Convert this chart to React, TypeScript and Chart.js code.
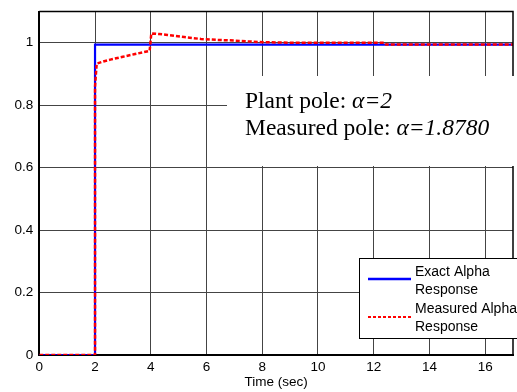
import React, { useEffect, useRef } from "react";
import { Chart, registerables } from "chart.js";

Chart.register(...registerables);

// ---- Data ----
const exactTime = [0, 2, 2, 17];
const exactAlpha = [0, 0, 0.994, 0.994];

const measuredTime = [0, 2, 2, 2.06, 2.3, 2.55, 3.0, 3.4, 3.96, 4.02, 4.3, 4.6, 5.2, 5.8, 6.4, 7.0, 7.9, 9, 12.4, 12.45, 17];
const measuredAlpha = [0, 0, 0.86, 0.933, 0.94, 0.946, 0.955, 0.963, 0.974, 1.03, 1.028, 1.025, 1.018, 1.012, 1.009, 1.007, 1.002, 1.0, 1.0, 0.994, 0.994];

const xTickValues = [0, 2, 4, 6, 8, 10, 12, 14, 16];
const yTickValues = [0, 0.2, 0.4, 0.6, 0.8, 1];

const seriesLabels = ["Exact Alpha", "Response", "Measured Alpha", "Response"];
const annotationLines = [
  ["Plant pole: ", "\u03B1=2"],
  ["Measured pole: ", "\u03B1=1.8780"],
];
const xTitle = "Time (sec)";

const SANS = "'Liberation Sans', Arial, sans-serif";
const SERIF = "'Liberation Serif', 'Times New Roman', serif";

const overlayPlugin = {
  id: "overlay",
  afterDraw(chart: any) {
    const ctx = chart.ctx;
    const { left, top, right, bottom } = chart.chartArea;
    ctx.save();
    // top & right frame
    ctx.strokeStyle = "#000";
    ctx.lineWidth = 1.5;
    ctx.beginPath();
    ctx.moveTo(left, top);
    ctx.lineTo(right, top);
    ctx.lineTo(right, bottom);
    ctx.stroke();

    // annotation box (white background)
    ctx.fillStyle = "#fff";
    ctx.fillRect(227, 76, 517 - 227, 166 - 76);
    ctx.fillStyle = "#000";
    ctx.textBaseline = "alphabetic";
    ctx.textAlign = "left";
    const baselines = [108, 135];
    annotationLines.forEach((parts, i) => {
      let x = 245;
      ctx.font = `23.5px ${SERIF}`;
      ctx.fillText(parts[0], x, baselines[i]);
      x += ctx.measureText(parts[0]).width;
      ctx.font = `italic 23.5px ${SERIF}`;
      ctx.fillText(parts[1], x, baselines[i]);
    });

    // legend
    ctx.fillStyle = "#fff";
    ctx.fillRect(359.5, 258.5, 170, 80);
    ctx.strokeStyle = "#000";
    ctx.lineWidth = 1;
    ctx.strokeRect(359.5, 258.5, 170, 80);

    ctx.lineWidth = 2.5;
    ctx.strokeStyle = "#0000ff";
    ctx.setLineDash([]);
    ctx.beginPath();
    ctx.moveTo(368, 279);
    ctx.lineTo(411, 279);
    ctx.stroke();

    ctx.strokeStyle = "#ff0000";
    ctx.lineWidth = 2;
    ctx.setLineDash([3, 2]);
    ctx.beginPath();
    ctx.moveTo(368, 317);
    ctx.lineTo(411, 317);
    ctx.stroke();
    ctx.setLineDash([]);

    ctx.fillStyle = "#000";
    ctx.font = `14px ${SANS}`;
    ctx.textBaseline = "middle";
    const ys = [272, 290, 309, 327];
    seriesLabels.forEach((t, i) => ctx.fillText(t, 415, ys[i]));
    ctx.restore();
  },
};

export default function App() {
  const ref = useRef<HTMLCanvasElement>(null);

  useEffect(() => {
    const canvas = ref.current;
    if (!canvas) return;
    const chart = new Chart(canvas, {
      type: "line",
      data: {
        datasets: [
          {
            label: "Exact Alpha Response",
            data: exactTime.map((t, i) => ({ x: t, y: exactAlpha[i] })),
            borderColor: "#0000ff",
            borderWidth: 2.2,
            pointRadius: 0,
            tension: 0,
            fill: false,
            order: 1,
          },
          {
            label: "Measured Alpha Response",
            data: measuredTime.map((t, i) => ({ x: t, y: measuredAlpha[i] })),
            borderColor: "#ff0000",
            borderWidth: 2.5,
            borderDash: [4, 2],
            pointRadius: 0,
            tension: 0,
            fill: false,
            order: 0,
          },
        ],
      },
      options: {
        responsive: false,
        animation: false,
        events: [],
        layout: { padding: { top: 11.5, left: 0, right: 4, bottom: 0 } },
        plugins: {
          legend: { display: false },
          tooltip: { enabled: false },
          title: { display: false },
        },
        scales: {
          x: {
            type: "linear",
            min: 0,
            max: 17,
            afterBuildTicks: (scale: any) => {
              scale.ticks = xTickValues.map((v) => ({ value: v }));
            },
            afterFit: (scale: any) => {
              scale.height = 37;
              scale.paddingLeft = 0;
              scale.paddingRight = 0;
            },
            ticks: {
              color: "#000",
              font: { family: SANS, size: 13.5 },
              padding: 4,
              maxRotation: 0,
              autoSkip: false,
              callback: (v: any) => String(v),
            },
            grid: { color: "#444", lineWidth: 1, drawTicks: false },
            border: { display: true, color: "#000", width: 2 },
            title: {
              display: true,
              text: xTitle,
              color: "#000",
              font: { family: SANS, size: 13.5 },
              padding: { top: 0, bottom: 2 },
            },
          },
          y: {
            type: "linear",
            min: 0,
            max: 1.1,
            afterBuildTicks: (scale: any) => {
              scale.ticks = yTickValues.map((v) => ({ value: v }));
            },
            afterFit: (scale: any) => {
              scale.width = 39.3;
              scale.paddingTop = 0;
              scale.paddingBottom = 0;
            },
            ticks: {
              color: "#000",
              font: { family: SANS, size: 13.5 },
              padding: 6,
              autoSkip: false,
              callback: (v: any) => String(Math.round(v * 10) / 10),
            },
            grid: { color: "#444", lineWidth: 1, drawTicks: false },
            border: { display: true, color: "#000", width: 2 },
          },
        },
      },
      plugins: [overlayPlugin],
    });
    return () => chart.destroy();
  }, []);

  return (
    <div style={{ position: "absolute", left: 0, top: 0, width: 517, height: 392, background: "#fff" }}>
      <canvas ref={ref} width={517} height={392} style={{ display: "block", width: 517, height: 392 }} />
    </div>
  );
}
